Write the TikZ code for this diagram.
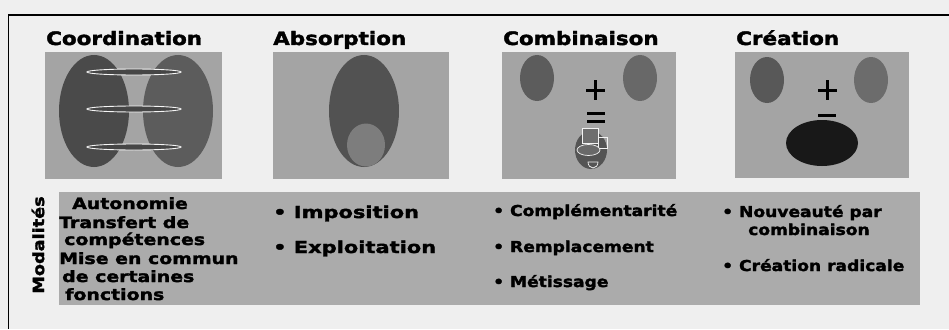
\documentclass[tikz,border=0pt]{standalone}
\usepackage{fontspec}
\newfontfamily\titlefont{DejaVu Sans}[FakeStretch=1.16,BoldFeatures={FakeBold=2}]
\newfontfamily\itemfont{DejaVu Sans}[FakeStretch=1.14,BoldFeatures={FakeBold=2}]
\newfontfamily\colafont{DejaVu Sans}[FakeStretch=1.22,BoldFeatures={FakeBold=2}]
\newfontfamily\colbfont{DejaVu Sans}[FakeStretch=1.27,BoldFeatures={FakeBold=2}]
\definecolor{bg}{HTML}{EFEFEF}
\definecolor{panel}{HTML}{A4A4A4}
\definecolor{modal}{HTML}{ABABAB}
\begin{document}
\begin{tikzpicture}[x=1pt,y=-1pt,
  title/.style={anchor=base west,inner sep=0pt,font=\titlefont\bfseries\fontsize{18.5}{18.5}\selectfont},
  item/.style={anchor=base west,inner sep=0pt,font=\itemfont\bfseries\fontsize{15}{15}\selectfont},
  itema/.style={anchor=base west,inner sep=0pt,font=\colafont\bfseries\fontsize{15.5}{15.5}\selectfont},
  itemb/.style={anchor=base west,inner sep=0pt,font=\colbfont\bfseries\fontsize{16.5}{16.5}\selectfont},
  panelbox/.style={fill=panel,draw=none},
  bar/.style={line width=3pt,black}]
\useasboundingbox (0,0) rectangle (949,329);
\fill[bg] (0,0) rectangle (949,329);
% frame
\draw[line width=1.6pt] (949,15) -- (8.5,15) -- (8.5,329);
% titles
\node[title] (t1) at (46,45) {Coordination};
\node[title] (t2) at (273,45) {Absorption};
\node[title] (t3) at (503,45) {Combinaison};
\node[title] (t4) at (736,45) {Création};
% panels
\fill[panelbox] (45,52) rectangle (222,179);
\fill[panelbox] (273,52) rectangle (449,179);
\fill[panelbox] (502,52) rectangle (676,179);
\fill[panelbox] (735,52) rectangle (909,178);
% panel 1
\fill[fill={rgb,255:red,74;green,74;blue,74}] (94,111) ellipse [x radius=35,y radius=56];
\fill[fill={rgb,255:red,92;green,92;blue,92}] (178,111) ellipse [x radius=35,y radius=56];
\foreach \yy in {72,109,147}
  \draw[draw=white!92!gray,line width=0.9pt,fill={rgb,255:red,70;green,70;blue,70}] (134,\yy) ellipse [x radius=47,y radius=3];
% panel 2
\fill[fill={rgb,255:red,82;green,82;blue,82}] (364,111) ellipse [x radius=35,y radius=56];
\fill[fill={rgb,255:red,125;green,125;blue,125}] (366,145) ellipse [x radius=19,y radius=21.5];
% panel 3
\fill[fill={rgb,255:red,92;green,92;blue,92}] (537,78) ellipse [x radius=17,y radius=23];
\fill[fill={rgb,255:red,104;green,104;blue,104}] (640,78) ellipse [x radius=17,y radius=23];
\draw[bar] (586,90) -- (605,90) (595.5,80) -- (595.5,100);
\draw[bar] (587,113) -- (605,113) (587,121) -- (605,121);
\fill[fill={rgb,255:red,84;green,84;blue,84}] (591,150) ellipse [x radius=16,y radius=19];
\begin{scope}[draw=white!90!gray,line width=0.7pt]
\draw[fill={rgb,255:red,110;green,110;blue,110}] (582,128) rectangle (598,143);
\draw (598,137) rectangle (607,148);
\draw[fill={rgb,255:red,105;green,105;blue,105}] (588.5,150) ellipse [x radius=11.5,y radius=5.5];
\draw (588,162) -- (598,162) arc[start angle=0,end angle=-180,x radius=5,y radius=-6] -- cycle;
\end{scope}
% panel 4
\fill[fill={rgb,255:red,88;green,88;blue,88}] (767,80) ellipse [x radius=17,y radius=23];
\fill[fill={rgb,255:red,108;green,108;blue,108}] (871,80) ellipse [x radius=17,y radius=23];
\draw[bar] (818,90) -- (837,90) (827.5,80) -- (827.5,100);
\draw[bar] (818,115) -- (836,115);
\fill[fill={rgb,255:red,24;green,24;blue,24}] (822,143) ellipse [x radius=36,y radius=23];
% modalites box
\fill[modal] (59,192) rectangle (920,305);
\node[font=\itemfont\bfseries\fontsize{15.5}{15.5}\selectfont,rotate=90,inner sep=0pt] (mod) at (38,245) {Modalités};
% column 1
\node[itema] (a1) at (72,209) {Autonomie};
\node[itema] (a2) at (59,228) {Transfert de};
\node[itema] (a3) at (64,245) {compétences};
\node[itema] (a4) at (59,264) {Mise en commun};
\node[itema] (a5) at (62,282) {de certaines};
\node[itema] (a6) at (65,300) {fonctions};
% column 2
\node[itemb] (b1) at (273,218) {• Imposition};
\node[itemb] (b2) at (273,253) {• Exploitation};
% column 3
\node[item] (c1) at (493,216) {• Complémentarité};
\node[item] (c2) at (493,252) {• Remplacement};
\node[item] (c3) at (493,287) {• Métissage};
% column 4
\node[item] (d1) at (722,217) {• Nouveauté par};
\node[item] (d2) at (748,235) {combinaison};
\node[item] (d3) at (722,271) {• Création radicale};
\end{tikzpicture}
\end{document}
